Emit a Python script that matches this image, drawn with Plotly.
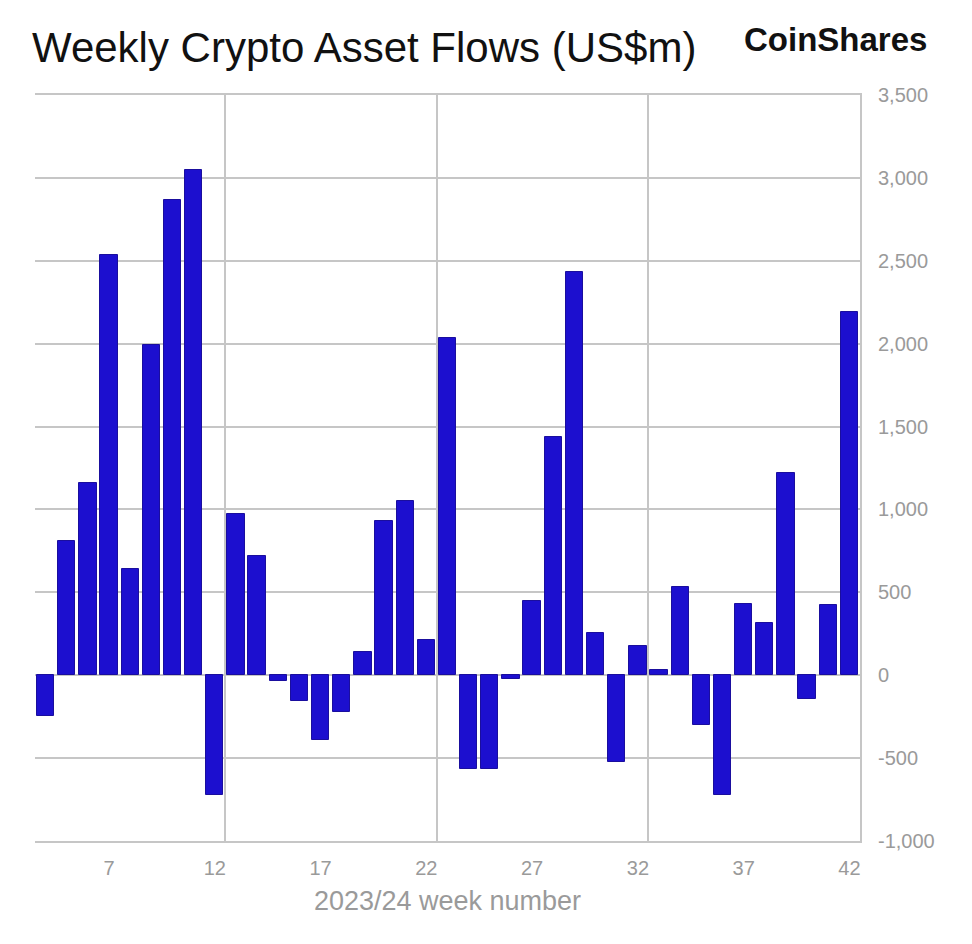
import plotly.graph_objects as go

weeks = list(range(4, 43))
flows = [-245, 808, 1158, 2532, 643, 1992, 2869, 3050, -721, 972, 721,
         -36, -156, -391, -220, 140, 932, 1048, 210, 2037, -567, -567,
         -21, 446, 1440, 2430, 252, -526, 177, 29, 530, -300, -725,
         431, 314, 1222, -144, 423, 2194]
x_tick_vals = [7, 12, 17, 22, 27, 32, 37, 42]
y_tick_vals = [-1000, -500, 0, 500, 1000, 1500, 2000, 2500, 3000, 3500]

GRID = "#c6c6c6"
TICK = "#9a9a9a"
FONT = "Liberation Sans, Arial, sans-serif"

fig = go.Figure(
    go.Bar(
        x=weeks,
        y=flows,
        width=0.82,
        marker=dict(color="#1c0fcf", line=dict(color="#1a0e9e", width=1)),
        showlegend=False,
    )
)

fig.update_layout(
    width=972,
    height=944,
    paper_bgcolor="white",
    plot_bgcolor="white",
    margin=dict(l=27, r=120, t=87, b=111),
    font=dict(family=FONT),
    bargap=0,
)

fig.update_xaxes(
    range=[3.5, 42.5],
    tickmode="array",
    tickvals=x_tick_vals,
    ticktext=[str(v) for v in x_tick_vals],
    tickfont=dict(size=20, color=TICK),
    showgrid=False,
    zeroline=False,
    showline=True,
    mirror=True,
    linecolor=GRID,
    linewidth=2,
    ticks="outside",
    ticklen=8,
    tickcolor="rgba(0,0,0,0)",
    minor=dict(tickmode="array", tickvals=[12.5, 22.5, 32.5], showgrid=True,
               gridcolor=GRID, gridwidth=2, ticks=""),
    title=dict(text="2023/24 week number", font=dict(size=27, color=TICK), standoff=13),
)

fig.update_yaxes(
    side="right",
    range=[-1000, 3500],
    tickmode="array",
    tickvals=y_tick_vals,
    ticktext=[f"{v:,}" for v in y_tick_vals],
    tickfont=dict(size=20, color=TICK),
    showgrid=True,
    gridcolor=GRID,
    gridwidth=2,
    zeroline=True,
    zerolinecolor=GRID,
    zerolinewidth=2,
    showline=True,
    linecolor=GRID,
    linewidth=2,
    ticks="outside",
    ticklen=12,
    tickcolor="rgba(0,0,0,0)",
)

fig.add_annotation(
    text="Weekly Crypto Asset Flows (US$m)",
    xref="paper", yref="paper",
    x=0, y=1.0, xanchor="left", yanchor="bottom", xshift=-5, yshift=22,
    showarrow=False,
    font=dict(size=42, color="#111111", family=FONT),
)
fig.add_annotation(
    text="<b>CoinShares</b>",
    xref="paper", yref="paper",
    x=1.0, y=1.0, xanchor="left", yanchor="bottom", xshift=-118, yshift=35,
    showarrow=False,
    font=dict(size=33, color="#111111", family=FONT),
)

fig.write_html("out.html")
